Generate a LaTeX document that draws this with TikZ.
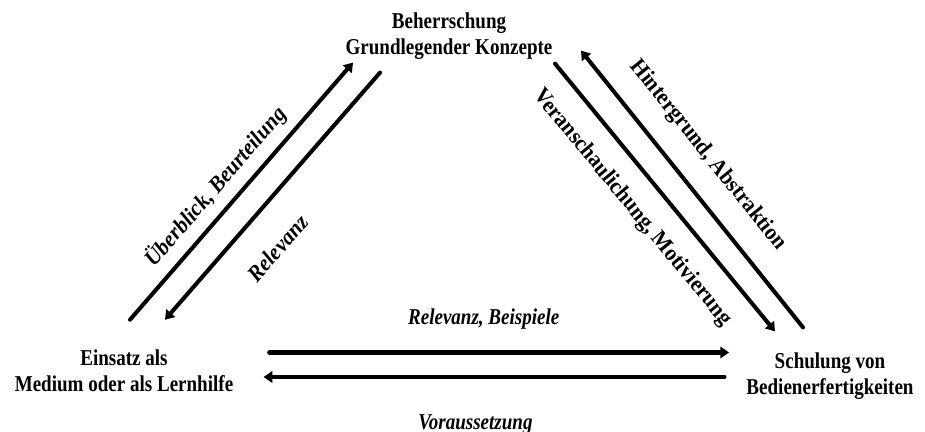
\documentclass[tikz,border=0pt]{standalone}
\usepackage{fontspec}
\setmainfont{Liberation Serif}[FakeStretch=0.84]
\newfontfamily\diagfont{Liberation Serif}[FakeStretch=0.94]
\usetikzlibrary{arrows.meta}
\tikzset{
  concept/.style  = {align=center, inner sep=0pt,
          font=\bfseries\fontsize{12.9}{14.8}\selectfont},
  link/.style     = {line width=2.3pt, line cap=round,
          -{Triangle[length=5pt,width=6.5pt]}},
  hlink/.style    = {link, line width=2.8pt},
  hlabel/.style   = {inner sep=0pt, font=\bfseries\itshape\fontsize{12.9}{14.8}\selectfont},
  dlabel/.style   = {inner sep=0pt, sloped,
          font=\diagfont\bfseries\itshape\fontsize{12.9}{14.8}\selectfont},
  dlabelup/.style = {dlabel, font=\diagfont\bfseries\fontsize{12.9}{14.8}\selectfont}
}
\begin{document}
\begin{tikzpicture}[x=0.02cm, y=-0.02cm]
  \useasboundingbox (0,0) rectangle (925,432);
  % die drei Ecken
  \node [concept] (konz)   at (449,35.9)  {Beherrschung\\Grundlegender Konzepte};
  \node [concept] (medium) at (124,370.8) {Einsatz als\\Medium oder als Lernhilfe};
  \node [concept] (schul)  at (830,375.8) {Schulung von\\Bedienerfertigkeiten};

  % links
  \draw [link] ([shift={(6,-29.7)}]medium.north) --
    node [dlabel, pos=0.46, above=5pt] {Überblick, Beurteilung}
    ([shift={(-96,3)}]konz.south);
  \draw [link] ([shift={(-69,13)}]konz.south) --
    node [dlabel, pos=0.61, below=16pt] {Relevanz}
    ([shift={(41,-29.7)}]medium.north);

  % rechts
  \draw [link] ([shift={(106,4)}]konz.south) --
    node [dlabelup, pos=0.463, below=11pt] {Veranschaulichung, Motivierung}
    ([shift={(-55,-20.7)}]schul.north);
  \draw [link] ([shift={(-27,-24.7)}]schul.north) --
    node [dlabelup, pos=0.546, above=12pt] {Hintergrund, Abstraktion}
    ([shift={(132,-9)}]konz.south);

  % unten
  \draw [hlink] ([shift={(36,-18.3)}]medium.east) --
    node [hlabel, pos=0.466, above=11.7pt] {Relevanz, Beispiele}
    ([shift={(-17,-23.3)}]schul.west);
  \draw [hlink] ([shift={(-22,1.2)}]schul.west) --
    node [hlabel, pos=0.54, below=20pt] {Voraussetzung}
    ([shift={(30,6.2)}]medium.east);
\end{tikzpicture}
\end{document}
